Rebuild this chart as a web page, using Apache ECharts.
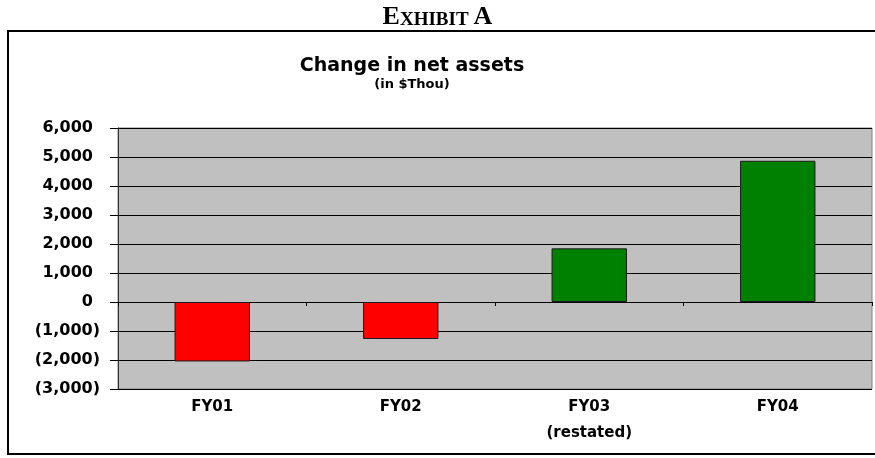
<!DOCTYPE html>
<html>
<head>
<meta charset="utf-8">
<title>Change in net assets</title>
<script src="https://cdn.jsdelivr.net/npm/echarts@6/dist/echarts.min.js"></script>
<style>
  html, body { margin: 0; padding: 0; background: #fff; }
  #chart { width: 875px; height: 458px; }
</style>
</head>
<body>
<div id="chart"></div>
<script>
// values, in $ thousands
const categories = ["FY01", "FY02", "FY03\n(restated)", "FY04"];
const changes = [-2050, -1275, 1850, 4870];
const yMin = -3000;
const yMax = 6000;
const yStep = 1000;

const labelFont = "DejaVu Sans";

// Excel style accounting format: negatives in brackets, positives padded for the ")"
function fmtAmount(v) {
  const txt = Math.abs(v).toLocaleString("en-US");
  if (v < 0) return "(" + txt + ")";
  return "{n|" + txt + "}";
}

const chart = echarts.init(document.getElementById("chart"), null, { renderer: "canvas" });

const option = {
  animation: false,
  backgroundColor: "#fff",
  title: [
    {
      text: "{a|E}{b|XHIBIT} {a|A}",
      left: "center",
      top: -1,
      textStyle: {
        rich: {
          a: { fontFamily: "Liberation Serif", fontWeight: "bold", fontSize: 26, color: "#000" },
          b: { fontFamily: "Liberation Serif", fontWeight: "bold", fontSize: 19, color: "#000", verticalAlign: "bottom" },
        },
      },
    },
    {
      text: "Change in net assets",
      subtext: "(in $Thou)",
      left: 407,
      textAlign: "center",
      top: 52,
      itemGap: 2,
      textStyle: { fontFamily: labelFont, fontWeight: "bold", fontSize: 19, color: "#000" },
      subtextStyle: { fontFamily: labelFont, fontWeight: "bold", fontSize: 13, color: "#000" },
    },
  ],
  graphic: [
    {
      type: "rect",
      shape: { x: 8, y: 31, width: 880, height: 423 },
      style: { fill: "none", stroke: "#000", lineWidth: 2 },
      silent: true,
    },
  ],
  grid: {
    left: 118,
    right: 3,
    top: 128,
    bottom: 69,
    show: true,
    backgroundColor: "#c0c0c0",
    borderColor: "#808080",
    borderWidth: 1,
  },
  xAxis: [
    {
      type: "category",
      data: categories,
      position: "bottom",
      axisLine: { show: false, onZero: false },
      axisTick: { show: false },
      axisLabel: {
        margin: 5,
        fontFamily: labelFont,
        fontWeight: "bold",
        fontSize: 15,
        color: "#000",
        lineHeight: 26,
      },
    },
    {
      type: "category",
      data: categories,
      position: "bottom",
      axisLine: { show: true, onZero: true, lineStyle: { color: "#000", width: 1 } },
      axisTick: { show: true, length: 4, lineStyle: { color: "#000" } },
      axisLabel: { show: false },
    },
  ],
  yAxis: {
    type: "value",
    min: yMin,
    max: yMax,
    interval: yStep,
    axisLine: { show: true, lineStyle: { color: "#333", width: 1 } },
    axisTick: { show: true, length: 8, lineStyle: { color: "#000" } },
    splitLine: { show: true, lineStyle: { color: "#000", width: 1 } },
    axisLabel: {
      margin: 18,
      fontFamily: labelFont,
      fontWeight: "bold",
      fontSize: 16,
      color: "#000",
      formatter: fmtAmount,
      rich: {
        n: { fontFamily: labelFont, fontWeight: "bold", fontSize: 16, color: "#000", padding: [0, 7, 0, 0] },
      },
    },
  },
  series: [
    {
      type: "bar",
      xAxisIndex: 0,
      data: changes.map((v) => ({
        value: v,
        itemStyle: { color: v < 0 ? "#ff0000" : "#008000" },
      })),
      barWidth: "40%",
      itemStyle: { borderColor: "#1a1a1a", borderWidth: 1 },
    },
  ],
};

chart.setOption(option);
</script>
</body>
</html>
